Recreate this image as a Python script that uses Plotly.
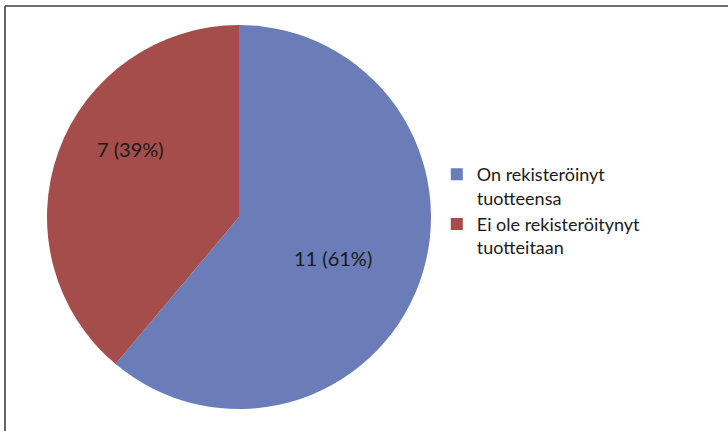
import math
import plotly.graph_objects as go

labels = ["On rekisteröinyt<br>tuotteensa", "Ei ole rekisteröitynyt<br>tuotteitaan"]
values = [11, 7]
colors = ["#6A7DB9", "#A54D4A"]

W, H = 728, 431
CX, CY, R = 239, 217, 192          # pie centre and radius in pixels
label_radius = [0.54, 0.66]        # how far out the data labels sit
label_turn = [5, 11]               # degrees, Excel nudges labels clockwise

fig = go.Figure(
    go.Pie(
        labels=labels,
        values=values,
        sort=False,
        direction="clockwise",
        rotation=0,
        marker=dict(colors=colors, line=dict(width=0)),
        textinfo="none",
        hoverinfo="label+value+percent",
        domain=dict(x=[(CX - R) / W, (CX + R) / W], y=[(H - CY - R) / H, (H - CY + R) / H]),
    )
)

# data labels, placed around each slice's middle angle
total = sum(values)
start = 0
for v, f, turn in zip(values, label_radius, label_turn):
    mid = math.radians((start + v / 2) / total * 360 + turn)
    start += v
    fig.add_annotation(
        x=(CX + R * f * math.sin(mid)) / W,
        y=(H - CY + R * f * math.cos(mid)) / H,
        xref="paper", yref="paper",
        xanchor="center", yanchor="middle", yshift=3,
        text=f"{v} ({round(100 * v / total)}%)",
        showarrow=False,
        font=dict(family="Lato", size=20, color="#1a1a1a"),
    )

fig.update_layout(
    width=W,
    height=H,
    margin=dict(l=0, r=0, t=0, b=0),
    paper_bgcolor="white",
    font=dict(family="Lato", size=18, color="#1a1a1a"),
    legend=dict(
        x=0.600,
        y=1 - 156 / H,
        xanchor="left",
        yanchor="top",
        valign="top",
        itemwidth=30,
        font=dict(family="Lato", size=18, color="#1a1a1a"),
    ),
    shapes=[
        dict(type="line", xref="paper", yref="paper", x0=5 / W, x1=1, y0=1 - 6 / H, y1=1 - 6 / H,
             line=dict(color="#6e6e6e", width=2)),
        dict(type="line", xref="paper", yref="paper", x0=5 / W, x1=5 / W, y0=0, y1=1 - 6 / H,
             line=dict(color="#333333", width=1.5)),
    ],
)

fig.write_html("out.html", config={"displayModeBar": False},
               post_script="document.body.style.margin='0';")
